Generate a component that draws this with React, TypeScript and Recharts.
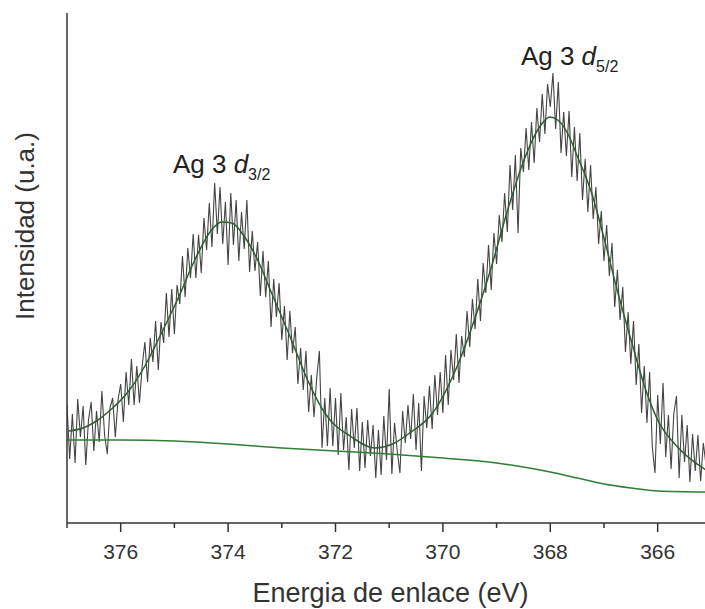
import React from "react";
import {
  LineChart,
  Line,
  XAxis,
  YAxis,
  ReferenceDot,
} from "recharts";

// raw Ag 3d spectrum, 0.05 eV steps from 377.00 eV down to 365.10 eV
const spectrumStart = 377;
const spectrumStep = 0.05;
const spectrumCounts = [
  118, 64, 109, 60, 124, 86, 117, 58, 103, 121, 72, 112, 81, 132, 88, 69, 115, 125, 86, 123, 139,
  101, 151, 118, 164, 118, 157, 120, 157, 181, 141,
  185, 161, 202, 153, 201, 180, 230, 186, 234, 189,
  238, 219, 267, 226, 275, 245, 289, 245, 288, 250,
  305, 273, 320, 276, 340, 289, 336, 279, 321, 258,
  330, 278, 323, 262, 311, 274, 323, 251, 292, 252,
  281, 227, 272, 226, 262, 196, 244, 206, 240, 183,
  217, 163, 212, 170, 196, 139, 175, 133, 172, 111,
  148, 106, 145, 172, 75, 125, 77, 135, 77, 125,
  68, 130, 73, 106, 53, 114, 75, 115, 52, 101,
  55, 103, 67, 98, 45, 93, 48, 107, 63, 134,
  49, 100, 72, 50, 112, 80, 118, 84, 129, 73,
  120, 52, 127, 95, 137, 94, 148, 108, 151, 110,
  168, 118, 173, 143, 189, 140, 187, 166, 212, 176,
  224, 194, 244, 202, 260, 230, 278, 233, 290, 259,
  308, 281, 330, 291, 358, 313, 368, 290, 375, 351,
  395, 353, 401, 360, 415, 381, 429, 389, 439, 416,
  450, 394, 441, 370, 411, 367, 412, 346, 396, 342,
  390, 323, 364, 311, 358, 304, 336, 279, 312, 262,
  298, 247, 280, 216, 253, 203, 236, 171, 211, 159,
  202, 138, 179, 110, 157, 100, 151, 76, 50, 128,
  79, 140, 66, 108, 54, 109, 127, 45, 108, 61,
  98, 41, 89, 52, 88, 42, 80, 58,
];

// fitted envelope (two components + background)
const fitEnergy = [
  376.97, 376.7, 376.48, 376.17, 375.85, 375.55, 375.24, 374.92, 374.62, 374.31, 374.12,
  373.93, 373.69, 373.45, 373.19, 372.82, 372.52, 372.2, 371.7, 371.27, 370.9,
  370.62, 370.19, 369.74, 369.37, 369.13, 368.81, 368.51, 368.2, 368.01, 367.86,
  367.68, 367.49, 367.23, 366.99, 366.74, 366.48, 366.24, 366.0, 365.63, 365.1,
];
const fitCounts = [
  92, 95, 101, 114, 132, 157, 190, 226, 263, 293, 301,
  300, 286, 263, 230, 183, 143, 110, 86, 75, 80,
  90, 110, 156, 210, 250, 310, 360, 396, 406, 403,
  390, 366, 330, 283, 230, 180, 136, 103, 76, 53,
];

// Shirley-type background
const bgEnergy = [377, 376, 375, 374, 373, 372, 371, 370, 369, 368.5, 368, 367.5, 367, 366.5, 366, 365.1];
const bgCounts = [83, 83, 82, 79, 75, 72, 69, 65, 60, 56, 51, 45, 39, 35, 32, 31];

const xTicks = [365, 366, 367, 368, 369, 370, 371, 372, 373, 374, 375, 376, 377];

const spectrumData = spectrumCounts.map((c, i) => ({
  energy: +(spectrumStart - i * spectrumStep).toFixed(2),
  counts: c,
}));
const fitData = fitEnergy.map((e, i) => ({ energy: e, counts: fitCounts[i] }));
const bgData = bgEnergy.map((e, i) => ({ energy: e, counts: bgCounts[i] }));

const FONT = '"Liberation Sans", Arial, sans-serif';
const AXIS = "#333";

const EnergyTick = (props: any) => {
  const { x, y, payload } = props;
  const major = payload.value % 2 === 0;
  return (
    <g>
      <line x1={x} y1={y} x2={x} y2={y + (major ? 9 : 5)} stroke={AXIS} strokeWidth={1.5} />
      {major && (
        <text x={x} y={y + 36} textAnchor="middle" fill="#333" fontSize={21} fontFamily={FONT}>
          {payload.value}
        </text>
      )}
    </g>
  );
};

const PeakLabel = ({
  viewBox,
  sub,
}: {
  viewBox?: { x: number; y: number };
  sub: string;
}) => {
  if (!viewBox) return null;
  return (
    <text
      x={viewBox.x}
      y={viewBox.y}
      textAnchor="middle"
      fill="#222"
      fontSize={26}
      fontFamily={FONT}
    >
      Ag 3 <tspan fontStyle="italic">d</tspan>
      <tspan fontSize={16} dy={7}>
        {sub}
      </tspan>
    </text>
  );
};

const XLabel = ({ viewBox }: any) => {
  if (!viewBox) return null;
  return (
    <text
      x={viewBox.x + viewBox.width / 2 + 4}
      y={602}
      textAnchor="middle"
      fill="#333"
      fontSize={27}
      fontFamily={FONT}
    >
      Energia de enlace (eV)
    </text>
  );
};

const YLabel = ({ viewBox }: any) => {
  if (!viewBox) return null;
  const cx = 34;
  const cy = 226;
  return (
    <text
      x={cx}
      y={cy}
      transform={`rotate(-90, ${cx}, ${cy})`}
      textAnchor="middle"
      fill="#333"
      fontSize={26}
      fontFamily={FONT}
    >
      Intensidad (u.a.)
    </text>
  );
};

export default function App() {
  return (
    <div
      style={{
        position: "absolute",
        left: 0,
        top: 0,
        width: 705,
        height: 609,
        overflow: "hidden",
        background: "#fff",
      }}
    >
      <LineChart
        width={706}
        height={609}
        margin={{ top: 13, right: 0, left: 10, bottom: 0 }}
      >
        <XAxis
          dataKey="energy"
          type="number"
          domain={[365.1, 377]}
          reversed
          allowDataOverflow
          ticks={xTicks}
          interval={0}
          tick={<EnergyTick />}
          tickLine={false}
          tickSize={0}
          tickMargin={0}
          height={86}
          axisLine={{ stroke: AXIS, strokeWidth: 1.5 }}
          label={<XLabel />}
        />
        <XAxis
          xAxisId="top"
          orientation="top"
          type="number"
          height={0}
          tick={false}
          tickLine={false}
          axisLine={{ stroke: AXIS, strokeWidth: 1.5 }}
        />
        <YAxis
          type="number"
          domain={[0, 510]}
          allowDataOverflow
          width={57}
          tick={false}
          tickLine={false}
          axisLine={{ stroke: AXIS, strokeWidth: 1.5 }}
          label={<YLabel />}
        />
        <Line
          data={spectrumData}
          dataKey="counts"
          type="linear"
          stroke="#444"
          strokeWidth={1.1}
          dot={false}
          isAnimationActive={false}
        />
        <Line
          data={bgData}
          dataKey="counts"
          type="monotone"
          stroke="#2f7f35"
          strokeWidth={1.5}
          dot={false}
          isAnimationActive={false}
        />
        <Line
          data={fitData}
          dataKey="counts"
          type="monotone"
          stroke="#2c5e35"
          strokeWidth={1.5}
          dot={false}
          isAnimationActive={false}
        />
        <ReferenceDot
          x={374.12}
          y={350}
          r={0}
          fill="none"
          stroke="none"
          label={<PeakLabel sub="3/2" />}
        />
        <ReferenceDot
          x={367.64}
          y={458}
          r={0}
          fill="none"
          stroke="none"
          label={<PeakLabel sub="5/2" />}
        />
      </LineChart>
    </div>
  );
}
